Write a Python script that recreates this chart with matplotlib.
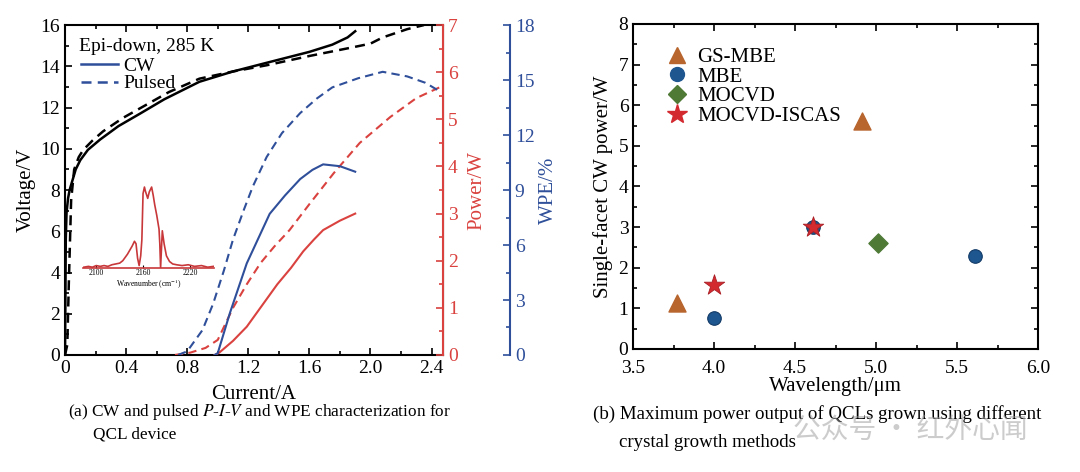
import matplotlib.pyplot as plt
import numpy as np
from matplotlib.ticker import MultipleLocator
from matplotlib.lines import Line2D

plt.rcParams['font.family'] = ['Liberation Serif', 'DejaVu Serif']
plt.rcParams['mathtext.fontset'] = 'stix'

BLUE = '#2f4f9a'
RED = '#d9423f'

# ---- (a) P-I-V data ----
cw_v_i = [0.0, 0.005, 0.01, 0.02, 0.03, 0.05, 0.07, 0.1, 0.15, 0.23, 0.35, 0.49, 0.65, 0.88,
          1.1, 1.32, 1.6, 1.75, 1.85, 1.90]
cw_v = [0.0, 5.6, 6.9, 7.6, 8.0, 8.5, 9.0, 9.45, 9.95, 10.45, 11.1, 11.7, 12.4, 13.25,
        13.75, 14.17, 14.7, 15.05, 15.4, 15.7]
pu_v_i = [0.0, 0.015, 0.025, 0.04, 0.06, 0.09, 0.12, 0.18, 0.25, 0.38, 0.5, 0.68, 0.88,
          1.1, 1.32, 1.6, 1.87, 2.0, 2.08, 2.24, 2.35]
pu_v = [0.0, 0.5, 3.5, 7.5, 9.0, 9.6, 9.95, 10.4, 10.85, 11.5, 12.0, 12.75, 13.4,
        13.75, 14.05, 14.5, 14.9, 15.1, 15.4, 15.8, 16.0]

cw_p_i = [0.98, 1.01, 1.1, 1.19, 1.29, 1.39, 1.48, 1.56, 1.63, 1.69, 1.80, 1.90]
cw_p = [0.0, 0.05, 0.3, 0.6, 1.05, 1.5, 1.85, 2.2, 2.45, 2.65, 2.85, 3.0]
pu_p_i = [0.72, 0.82, 0.92, 1.0, 1.1, 1.19, 1.28, 1.37, 1.47, 1.6, 1.76, 1.93, 2.13, 2.30, 2.46]
pu_p = [0.0, 0.05, 0.15, 0.32, 1.0, 1.5, 1.95, 2.3, 2.65, 3.2, 3.86, 4.5, 5.05, 5.45, 5.69]

cw_w_i = [0.98, 1.0, 1.08, 1.19, 1.29, 1.34, 1.44, 1.54, 1.62, 1.69, 1.80, 1.90]
cw_w = [0.0, 0.1, 2.3, 5.0, 6.8, 7.7, 8.7, 9.6, 10.1, 10.4, 10.3, 10.0]
pu_w_i = [0.74, 0.8, 0.9, 0.97, 1.04, 1.10, 1.17, 1.23, 1.32, 1.42, 1.54, 1.65, 1.75,
          1.92, 2.08, 2.24, 2.36, 2.46]
pu_w = [0.0, 0.2, 1.36, 2.8, 4.6, 6.3, 7.9, 9.2, 10.8, 12.1, 13.2, 14.0, 14.6,
        15.1, 15.45, 15.2, 14.85, 14.35]

# inset spectrum
spec_wn = [2084, 2090, 2095, 2100, 2105, 2110, 2115, 2120, 2125, 2130, 2134, 2137,
           2140, 2143, 2146, 2149, 2151, 2153, 2155, 2157, 2158.5, 2160, 2161.8,
           2163, 2166, 2168, 2171, 2173, 2175, 2177.6, 2180.5, 2181.5, 2182.5,
           2184.7, 2187, 2190, 2194, 2198, 2203, 2210, 2218, 2226, 2235, 2243, 2250]
spec_int = [0.01, 0.02, 0.01, 0.03, 0.02, 0.03, 0.02, 0.04, 0.05, 0.06, 0.09, 0.13,
            0.17, 0.22, 0.27, 0.33, 0.30, 0.12, 0.03, 0.15, 0.35, 0.92, 1.0,
            0.95, 0.86, 0.94, 1.0, 0.90, 0.78, 0.65, 0.48, 0.30, 0.0,
            0.46, 0.30, 0.15, 0.08, 0.05, 0.04, 0.03, 0.04, 0.02, 0.03, 0.01, 0.02]

# ---- (b) maximum power vs wavelength ----
gsmbe_x = [3.77, 4.91]
gsmbe_y = [1.12, 5.62]
mbe_x = [4.00, 4.61, 5.61]
mbe_y = [0.76, 3.0, 2.30]
mocvd_x = [5.01]
mocvd_y = [2.60]
iscas_x = [4.00, 4.61]
iscas_y = [1.58, 3.0]

fig = plt.figure(figsize=(10.8, 4.72), dpi=100)

# ---------------- panel (a) ----------------
ax = fig.add_axes([0.0602, 0.2479, 0.350, 0.699])
ax.plot(cw_v_i, cw_v, color='black', lw=1.8)
ax.plot(pu_v_i, pu_v, color='black', lw=1.8, ls=(0, (4, 2.5)))
ax.set_xlim(0, 2.475)
ax.set_ylim(0, 16)
ax.xaxis.set_minor_locator(MultipleLocator(0.2))
ax.yaxis.set_major_locator(MultipleLocator(2))
ax.yaxis.set_minor_locator(MultipleLocator(1))
ax.tick_params(which='both', direction='in', top=True, right=False, labelsize=14, width=1.2)
ax.tick_params(which='major', length=5)
ax.tick_params(which='minor', length=3)
ax.set_xticks([0, 0.4, 0.8, 1.2, 1.6, 2.0, 2.4])
ax.set_xticklabels(['0', '0.4', '0.8', '1.2', '1.6', '2.0', '2.4'])
for s in ['left', 'bottom', 'top']:
    ax.spines[s].set_linewidth(1.5)
ax.set_xlabel('Current/A', fontsize=15, labelpad=6)
ax.set_ylabel('Voltage/V', fontsize=15, labelpad=3)

ax.text(0.037, 0.96, 'Epi-down, 285 K', transform=ax.transAxes, fontsize=14, va='top')
hnd = [Line2D([], [], color=BLUE, lw=1.8), Line2D([], [], color=BLUE, lw=1.8, ls=(0, (4, 2.5)))]
ax.legend(hnd, ['CW', 'Pulsed'], loc='upper left', bbox_to_anchor=(0.0, 0.95), frameon=False,
          fontsize=14, handlelength=1.9, handletextpad=0.3, labelspacing=0.0, borderpad=0.3)

axp = ax.twinx()
axp.plot(cw_p_i, cw_p, color=RED, lw=1.5)
axp.plot(pu_p_i, pu_p, color=RED, lw=1.5, ls=(0, (4, 2.5)))
axp.set_ylim(0, 7)
axp.yaxis.set_major_locator(MultipleLocator(1))
axp.yaxis.set_minor_locator(MultipleLocator(0.5))
axp.tick_params(which='both', direction='in', colors=RED, labelsize=14, width=1.2)
axp.tick_params(which='major', length=5)
axp.tick_params(which='minor', length=3)
for s in ['left', 'bottom', 'top']:
    axp.spines[s].set_visible(False)
axp.spines['right'].set_color(RED)
axp.spines['right'].set_linewidth(1.5)
axp.set_ylabel('Power/W', color=RED, fontsize=15, labelpad=7)

axw = ax.twinx()
axw.plot(cw_w_i, cw_w, color=BLUE, lw=1.5)
axw.plot(pu_w_i, pu_w, color=BLUE, lw=1.5, ls=(0, (4, 2.5)))
axw.set_ylim(0, 18)
axw.spines['right'].set_position(('axes', 1.177))
axw.yaxis.set_major_locator(MultipleLocator(3))
axw.yaxis.set_minor_locator(MultipleLocator(1.5))
axw.tick_params(which='both', direction='in', colors=BLUE, labelsize=14, width=1.2)
axw.tick_params(which='major', length=5)
axw.tick_params(which='minor', length=3)
for s in ['left', 'bottom', 'top']:
    axw.spines[s].set_visible(False)
axw.spines['right'].set_color(BLUE)
axw.spines['right'].set_linewidth(1.5)
axw.set_ylabel('WPE/%', color=BLUE, fontsize=15, labelpad=3)

# inset spectrum
axi = fig.add_axes([83 / 1080, 1 - 268 / 472, 131 / 1080, 85 / 472])
axi.patch.set_alpha(0)
axi.plot(spec_wn, spec_int, color='#c8383a', lw=1.2)
axi.set_xlim(2083, 2251)
axi.set_ylim(0, 1.05)
for s in ['left', 'right', 'top']:
    axi.spines[s].set_visible(False)
axi.spines['bottom'].set_color('#c8383a')
axi.spines['bottom'].set_linewidth(1.2)
axi.set_yticks([])
axi.set_xticks([2100, 2160, 2220])
axi.tick_params(axis='x', direction='in', length=2, labelsize=5.5, pad=1)
axi.set_xlabel('Wavenumber (cm$^{-1}$)', fontsize=5.5, labelpad=0.5)

fig.text(0.063, 0.118, '(a) CW and pulsed $P$-$I$-$V$ and WPE characterization for', fontsize=12.4)
fig.text(0.086, 0.072, 'QCL device', fontsize=12.4)

# ---------------- panel (b) ----------------
bx = fig.add_axes([0.5864, 0.2606, 0.3747, 0.6886])
bx.scatter(gsmbe_x, gsmbe_y, marker='^', s=150, color='#b8652e', zorder=3)
bx.scatter(mbe_x, mbe_y, marker='o', s=95, color='#1e5690', edgecolor='#123a66', lw=0.8, zorder=3)
bx.scatter(mocvd_x, mocvd_y, marker='D', s=95, color='#4f7a36', zorder=3)
bx.scatter(iscas_x, iscas_y, marker='*', s=240, color='#d32a30', edgecolor='#a81e24', lw=0.6, zorder=4)
bx.set_xlim(3.5, 6.0)
bx.set_ylim(0, 8)
bx.xaxis.set_major_locator(MultipleLocator(0.5))
bx.xaxis.set_minor_locator(MultipleLocator(0.25))
bx.yaxis.set_major_locator(MultipleLocator(1))
bx.yaxis.set_minor_locator(MultipleLocator(0.5))
bx.tick_params(which='both', direction='in', top=True, right=True, labelsize=14, width=1.2)
bx.tick_params(axis='x', pad=8)
bx.tick_params(which='major', length=5)
bx.tick_params(which='minor', length=3)
for s in bx.spines.values():
    s.set_linewidth(1.5)
bx.set_xlabel('Wavelength/μm', fontsize=15, labelpad=0)
bx.set_ylabel('Single-facet CW power/W', fontsize=15, labelpad=4)

lh = [Line2D([], [], ls='', marker='^', ms=12, color='#b8652e'),
      Line2D([], [], ls='', marker='o', ms=10, color='#1e5690'),
      Line2D([], [], ls='', marker='D', ms=9, color='#4f7a36'),
      Line2D([], [], ls='', marker='*', ms=15, color='#d32a30')]
bx.legend(lh, ['GS-MBE', 'MBE', 'MOCVD', 'MOCVD-ISCAS'], loc='upper left', bbox_to_anchor=(0.03, 0.985),
          frameon=False, fontsize=15, handletextpad=0.4, labelspacing=0.0, handlelength=1.2)

fig.text(0.549, 0.112, '(b) Maximum power output of QCLs grown using different', fontsize=13.6)
fig.text(0.573, 0.052, 'crystal growth methods', fontsize=13.6)

# watermark
fig.text(0.734, 0.072, '公众号 · 红外心闻', fontsize=20, color='#9a9a9a', alpha=0.5,
         family=['Noto Sans CJK SC', 'DejaVu Sans'])

fig.savefig('out.png', dpi=100)
